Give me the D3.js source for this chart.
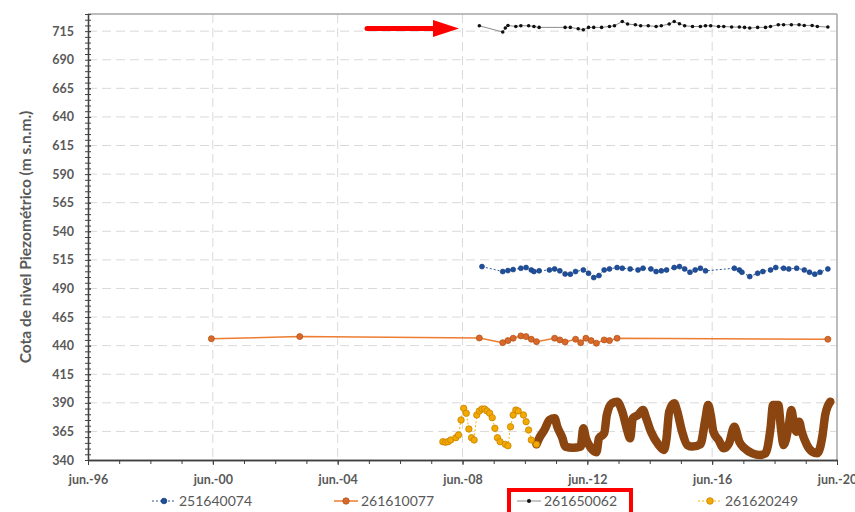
<!DOCTYPE html>
<html><head><meta charset="utf-8">
<script src="https://cdn.jsdelivr.net/npm/d3@7"></script>
<style>
html,body{margin:0;padding:0;background:#fff;}
svg{display:block;font-family:Lato,"Open Sans",sans-serif;}
</style></head>
<body>
<svg id="chart" width="855" height="512"></svg>
<script>
// ---------- DATA ----------
const xTickLabels = ["jun.-96","jun.-00","jun.-04","jun.-08","jun.-12","jun.-16","jun.-20"];
const yTicks = [340,365,390,415,440,465,490,515,540,565,590,615,640,665,690,715];
const seriesNames = ["251640074","261610077","261650062","261620249"];

const s251640074 = [
["2009-01",509.1],["2009-09",504.8],["2009-11",505.6],["2010-01",506.5],["2010-04",507.7],["2010-06",508.3],
["2010-08",506.2],["2010-09",504.8],["2010-11",505.4],["2011-03",506.2],["2011-05",507.1],["2011-07",505.4],
["2011-09",502.7],["2011-11",502.5],["2012-01",504.8],["2012-04",506.2],["2012-06",503.3],["2012-08",499.5],
["2012-10",501.3],["2012-12",506.2],["2013-02",507.1],["2013-05",508.3],["2013-07",507.7],["2013-10",507.1],
["2014-01",506.2],["2014-03",507.7],["2014-06",507.1],["2014-08",504.8],["2014-10",505.4],["2014-12",506.2],
["2015-03",508.3],["2015-05",509.1],["2015-07",507.1],["2015-09",504.2],["2015-11",506.2],["2016-01",507.7],
["2016-03",505.4],["2017-02",507.7],["2017-04",506.2],["2017-05",504.2],["2017-08",500.4],["2017-11",503.3],
["2018-01",504.8],["2018-04",506.2],["2018-06",508.3],["2018-09",507.7],["2018-11",507.1],["2019-02",507.7],
["2019-05",506.2],["2019-07",504.2],["2019-09",502.5],["2019-11",504.2],["2020-02",507.1]
];

const s261610077 = [
["2000-05",446.1],["2003-03",447.9],["2008-12",446.7],["2009-09",442.6],["2009-11",444.4],["2010-01",446.5],
["2010-04",448.5],["2010-06",447.9],["2010-08",445.6],["2010-10",443.5],["2011-05",446.5],["2011-07",445.0],
["2011-09",443.2],["2012-01",445.6],["2012-03",442.6],["2012-05",446.5],["2012-07",444.4],["2012-09",442.1],
["2012-12",445.0],["2013-02",444.4],["2013-05",446.5],["2020-02",445.6]
];

const s261650062 = [
["2008-12",719.7],["2009-09",714.2],["2009-10",717.7],["2009-11",720.0],["2010-02",719.1],["2010-04",719.7],
["2010-07",719.7],["2010-09",719.1],["2010-11",718.3],["2011-09",718.3],["2011-11",718.3],["2012-02",717.1],
["2012-04",716.2],["2012-06",718.3],["2012-08",718.3],["2012-11",718.3],["2013-02",719.1],["2013-04",719.7],
["2013-07",723.5],["2013-09",721.2],["2013-12",720.6],["2014-02",719.7],["2014-05",719.7],["2014-08",719.1],
["2014-10",719.7],["2015-01",721.2],["2015-03",723.5],["2015-05",721.5],["2015-07",719.7],["2015-10",719.1],
["2016-01",719.1],["2016-03",719.7],["2016-05",719.7],["2016-08",719.1],["2016-10",719.1],["2017-01",718.6],
["2017-04",718.6],["2017-06",718.3],["2017-08",717.7],["2017-11",718.3],["2018-02",718.3],["2018-04",719.1],
["2018-07",720.6],["2018-09",720.6],["2018-12",720.6],["2019-03",720.6],["2019-05",720.0],["2019-08",720.0],
["2019-10",719.1],["2020-02",718.6]
];

// 261620249: manual readings (sparse) and continuous record (dense)
const s261620249_manual = [
["2007-10",356.0],["2007-11",355.5],["2007-12",356.0],["2008-01",357.5],["2008-03",359.5],["2008-04",361.9],
["2008-05",375.0],["2008-06",385.2],["2008-07",380.9],["2008-08",367.1],["2008-09",359.5],["2008-10",357.5],
["2008-11",379.4],["2008-12",382.9],["2009-01",384.6],["2009-02",384.6],["2009-03",382.9],["2009-04",380.9],
["2009-05",377.0],["2009-06",367.7],["2009-07",359.5],["2009-08",356.0],["2009-10",353.7],["2009-11",352.5],
["2009-12",369.1],["2010-01",379.4],["2010-02",383.7],["2010-03",382.9],["2010-05",379.4],["2010-06",373.5],
["2010-07",366.2],["2010-08",357.5],["2010-10",353.7]
];
const s261620249_continuous = [
["2010-10",353.7],["2010-11",359.0],["2011-01",366.2],["2011-03",375.0],["2011-05",376.5],["2011-06",369.1],
["2011-08",359.0],["2011-09",351.7],["2011-12",350.8],["2012-03",351.7],["2012-04",367.7],["2012-05",359.0],
["2012-07",350.2],["2012-09",346.7],["2012-10",359.0],["2012-12",363.3],["2013-01",379.4],["2013-03",389.6],
["2013-05",391.0],["2013-07",382.3],["2013-09",364.8],["2013-10",359.0],["2013-11",376.5],["2014-01",379.4],
["2014-03",383.7],["2014-04",377.9],["2014-06",364.8],["2014-09",353.1],["2014-11",348.7],["2014-12",359.0],
["2015-01",382.3],["2015-03",389.6],["2015-04",383.7],["2015-06",364.8],["2015-08",353.1],["2015-10",351.7],
["2016-01",353.7],["2016-03",376.5],["2016-04",388.1],["2016-05",379.4],["2016-06",364.8],["2016-08",357.5],
["2016-10",350.2],["2016-12",354.6],["2017-02",369.1],["2017-04",356.0],["2017-06",350.2],["2017-09",345.8],
["2017-12",344.4],["2018-02",345.8],["2018-04",367.7],["2018-05",388.1],["2018-07",388.1],["2018-08",367.7],
["2018-09",353.1],["2018-11",370.6],["2018-12",383.7],["2019-01",370.6],["2019-02",364.8],["2019-03",373.5],
["2019-04",364.8],["2019-06",353.1],["2019-08",347.3],["2019-10",345.8],["2019-12",361.9],["2020-01",379.4],
["2020-03",391.0]
];

// ---------- CHART ----------
const svg = d3.select("#chart");
const L = 88, R = 837, T = 14, B = 460;
const parse = d3.timeParse("%Y-%m");
const toPt = d => ({date: d3.timeDay.offset(parse(d[0]), 14), v: d[1]});

const x = d3.scaleTime().domain([new Date(1996,5,1), new Date(2020,5,1)]).range([L, R]);
const y = d3.scaleLinear().domain([340, 730]).range([B, T]);

const majorX = d3.range(1996, 2021, 4).map(yr => new Date(yr,5,1));
const minorX = d3.range(1996, 2021, 1).map(yr => new Date(yr,5,1));
const minorY = d3.range(340, 731, 5);

const grid = svg.append("g");
grid.selectAll("line.h").data(yTicks.slice(1)).join("line")
  .attr("x1", L).attr("x2", R).attr("y1", d => y(d)).attr("y2", d => y(d))
  .attr("stroke", "#d9d9d9").attr("stroke-width", 1).attr("stroke-dasharray", "9,5");
grid.selectAll("line.v").data(majorX.slice(1, -1)).join("line")
  .attr("x1", d => x(d)).attr("x2", d => x(d)).attr("y1", T).attr("y2", B)
  .attr("stroke", "#d9d9d9").attr("stroke-width", 1).attr("stroke-dasharray", "9,5");

// plot border (top/right)
svg.append("line").attr("x1", L).attr("x2", R).attr("y1", T).attr("y2", T).attr("stroke", "#a6a6a6").attr("stroke-width", 1.5);
svg.append("line").attr("x1", R).attr("x2", R).attr("y1", T).attr("y2", B).attr("stroke", "#a6a6a6").attr("stroke-width", 1.5);

// axes
const xAxis = svg.append("g").attr("transform", `translate(0,${B})`)
  .call(d3.axisBottom(x).tickValues(majorX).tickFormat((d,i) => xTickLabels[i]).tickSize(5).tickSizeOuter(0));
const xMinor = svg.append("g").attr("transform", `translate(0,${B})`)
  .call(d3.axisBottom(x).tickValues(minorX).tickFormat("").tickSize(4).tickSizeOuter(0));
const yAxis = svg.append("g").attr("transform", `translate(${L},0)`)
  .call(d3.axisLeft(y).tickValues(yTicks).tickFormat(d3.format("d")).tickSize(4).tickSizeOuter(0));
const yMinor = svg.append("g").attr("transform", `translate(${L},0)`)
  .call(d3.axisLeft(y).tickValues(minorY).tickFormat("").tickSize(3).tickSizeOuter(0));
yMinor.selectAll(".tick line").attr("x2", 3).attr("x1", -3);
yAxis.selectAll(".tick line").attr("x2", 3);

[xAxis, xMinor, yAxis, yMinor].forEach(g => {
  g.select(".domain").attr("stroke", "#404040").attr("stroke-width", 1.3);
  g.selectAll(".tick line").attr("stroke", "#404040");
});
xAxis.selectAll("text").attr("fill", "#595959").attr("font-size", 12.5).attr("font-weight", "bold")
  .attr("font-family", "Lato, sans-serif").attr("dy", "1.3em");
yAxis.selectAll("text").attr("fill", "#595959").attr("font-size", 12.5).attr("font-weight", "bold")
  .attr("font-family", "Lato, sans-serif").attr("x", -14);

svg.append("text")
  .attr("transform", `translate(31,${(T+B)/2}) rotate(-90)`)
  .attr("text-anchor", "middle")
  .attr("fill", "#595959").attr("font-size", 15.5).attr("font-weight", "bold")
  .text("Cota de nivel Piezométrico (m s.n.m.)");

const line = d3.line().x(d => x(d.date)).y(d => y(d.v));
const plot = svg.append("g");

// 261620249 continuous (dense brown band)
const s4c = s261620249_continuous.map(toPt);
plot.append("path").datum(s4c).attr("d", line.curve(d3.curveMonotoneX))
  .attr("fill", "none").attr("stroke", "#8a4510").attr("stroke-width", 8.5)
  .attr("stroke-linejoin", "round").attr("stroke-linecap", "round");
line.curve(d3.curveLinear);

// 261620249 manual (gold dots)
const s4m = s261620249_manual.map(toPt);
plot.append("path").datum(s4m).attr("d", line)
  .attr("fill", "none").attr("stroke", "#f5b800").attr("stroke-width", 1).attr("stroke-dasharray", "2,2");
plot.selectAll("circle.s4").data(s4m).join("circle")
  .attr("cx", d => x(d.date)).attr("cy", d => y(d.v)).attr("r", 3.2)
  .attr("fill", "#f2a900").attr("stroke", "#c98200").attr("stroke-width", 0.8);

// 261610077 (orange)
const s2 = s261610077.map(toPt);
plot.append("path").datum(s2).attr("d", line)
  .attr("fill", "none").attr("stroke", "#ed7d31").attr("stroke-width", 1.5);
plot.selectAll("circle.s2").data(s2).join("circle")
  .attr("cx", d => x(d.date)).attr("cy", d => y(d.v)).attr("r", 3)
  .attr("fill", "#d8692a").attr("stroke", "#b5541a").attr("stroke-width", 0.8);

// 251640074 (blue)
const s1 = s251640074.map(toPt);
plot.append("path").datum(s1).attr("d", line)
  .attr("fill", "none").attr("stroke", "#2f5597").attr("stroke-width", 1).attr("stroke-dasharray", "2,2");
plot.selectAll("circle.s1").data(s1).join("circle")
  .attr("cx", d => x(d.date)).attr("cy", d => y(d.v)).attr("r", 2.5)
  .attr("fill", "#1f4e9a").attr("stroke", "#17407f").attr("stroke-width", 0.6);

// 261650062 (black)
const s3 = s261650062.map(toPt);
plot.append("path").datum(s3).attr("d", line)
  .attr("fill", "none").attr("stroke", "#8c8c8c").attr("stroke-width", 1);
plot.selectAll("circle.s3").data(s3).join("circle")
  .attr("cx", d => x(d.date)).attr("cy", d => y(d.v)).attr("r", 1.8)
  .attr("fill", "#111");

// red arrow annotation
const arrow = svg.append("g");
arrow.append("line").attr("x1", 367).attr("x2", 436).attr("y1", 28.5).attr("y2", 28.5)
  .attr("stroke", "#ff0000").attr("stroke-width", 5).attr("stroke-linecap", "round");
arrow.append("path").attr("d", "M433,20 L459,28.5 L433,37 Z").attr("fill", "#ff0000");

// legend
const legendItems = [
  {name: seriesNames[0], x: 152, color: "#2f5597", dash: "2,2", fill: "#1f4e9a", stroke: "#17407f", r: 2.8},
  {name: seriesNames[1], x: 334, color: "#ed7d31", dash: null, fill: "#d8692a", stroke: "#b5541a", r: 3.2},
  {name: seriesNames[2], x: 517, color: "#8c8c8c", dash: null, fill: "#111", stroke: "none", r: 2},
  {name: seriesNames[3], x: 698, color: "#f5b800", dash: "2,2", fill: "#f2a900", stroke: "#c98200", r: 3.3}
];
const lg = svg.append("g").selectAll("g").data(legendItems).join("g")
  .attr("transform", d => `translate(${d.x},501)`);
lg.append("line").attr("x1", 0).attr("x2", 24).attr("y1", 0).attr("y2", 0)
  .attr("stroke", d => d.color).attr("stroke-width", d => d.name === "261610077" ? 1.5 : 1)
  .attr("stroke-dasharray", d => d.dash);
lg.append("circle").attr("cx", 12).attr("cy", 0).attr("r", d => d.r)
  .attr("fill", d => d.fill).attr("stroke", d => d.stroke).attr("stroke-width", 0.8);
lg.append("text").attr("x", 27).attr("y", 0).attr("dy", "0.36em")
  .attr("fill", "#595959").attr("font-size", 14).text(d => d.name);

// red highlight box around legend entry
svg.append("rect").attr("x", 509).attr("y", 490).attr("width", 122).attr("height", 25)
  .attr("fill", "none").attr("stroke", "#ff0000").attr("stroke-width", 4);
</script>
</body></html>
